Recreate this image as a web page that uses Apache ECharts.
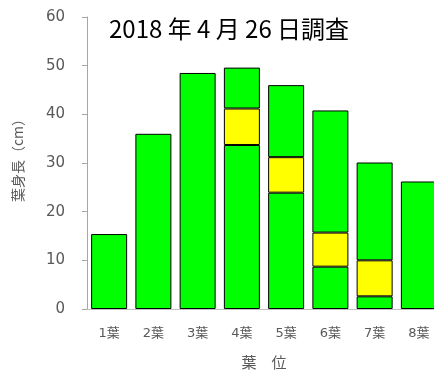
<!DOCTYPE html>
<html>
<head>
<meta charset="utf-8">
<script src="https://cdn.jsdelivr.net/npm/echarts@6/dist/echarts.min.js"></script>
<style>
  html, body { margin: 0; padding: 0; background: #fff; }
  #chart { width: 434px; height: 374px; }
</style>
</head>
<body>
<div id="chart"></div>
<script>
// 葉位ごとの葉身長（下の緑・黄・上の緑の積み上げ）
const categories = ['1葉', '2葉', '3葉', '4葉', '5葉', '6葉', '7葉', '8葉']
const lowerGreen = [15.4, 36.0, 48.5, 33.7, 23.9, 8.7, 2.6, 26.2]
const yellowPart = [null, null, null, 7.5, 7.3, 7.0, 7.4, null]
const upperGreen = [null, null, null, 8.4, 14.8, 25.1, 20.1, null]
const yTicks = [0, 10, 20, 30, 40, 50, 60]

const chart = echarts.init(document.getElementById('chart'))

const barStyle = (color) => ({
  color: color,
  borderColor: '#000',
  borderWidth: 1
})

chart.setOption({
  animation: false,
  title: {
    text: '2018 年 4 月 26 日調査',
    left: 104,
    top: 12,
    textStyle: {
      fontFamily: 'Noto Sans CJK JP',
      fontSize: 24,
      fontWeight: 'normal',
      color: '#000'
    }
  },
  grid: {
    left: 87,
    right: -7,
    top: 17,
    bottom: 65,
    outerBoundsMode: 'none'
  },
  xAxis: {
    type: 'category',
    data: categories,
    name: '葉　位',
    nameLocation: 'middle',
    nameGap: 46,
    nameTextStyle: {
      fontFamily: 'Noto Sans CJK JP',
      fontSize: 15,
      color: '#595959'
    },
    axisLine: { lineStyle: { color: '#bfbfbf' } },
    axisTick: { show: false },
    axisLabel: {
      margin: 18,
      fontFamily: 'DejaVu Sans, Noto Sans CJK JP',
      fontSize: 13,
      color: '#595959'
    }
  },
  yAxis: {
    type: 'value',
    min: yTicks[0],
    max: yTicks[yTicks.length - 1],
    interval: 10,
    name: '葉身長（cm）',
    nameLocation: 'middle',
    nameGap: 62,
    nameTextStyle: {
      fontFamily: 'Noto Sans CJK JP',
      fontSize: 14,
      color: '#595959',
      padding: [0, 0, 0, 12]
    },
    axisLine: { show: true, lineStyle: { color: '#a6a6a6' } },
    axisTick: { show: true, length: 5, lineStyle: { color: '#a6a6a6' } },
    splitLine: { show: false },
    axisLabel: {
      margin: 22,
      fontFamily: 'DejaVu Sans',
      fontSize: 15,
      color: '#595959'
    }
  },
  series: [
    {
      name: 'lower',
      type: 'bar',
      stack: 'leaf',
      barWidth: 36,
      data: lowerGreen,
      itemStyle: barStyle('#00ff00')
    },
    {
      name: 'yellow',
      type: 'bar',
      stack: 'leaf',
      barWidth: 36,
      data: yellowPart,
      itemStyle: barStyle('#ffff00')
    },
    {
      name: 'upper',
      type: 'bar',
      stack: 'leaf',
      barWidth: 36,
      data: upperGreen,
      itemStyle: barStyle('#00ff00')
    }
  ]
})
</script>
</body>
</html>
